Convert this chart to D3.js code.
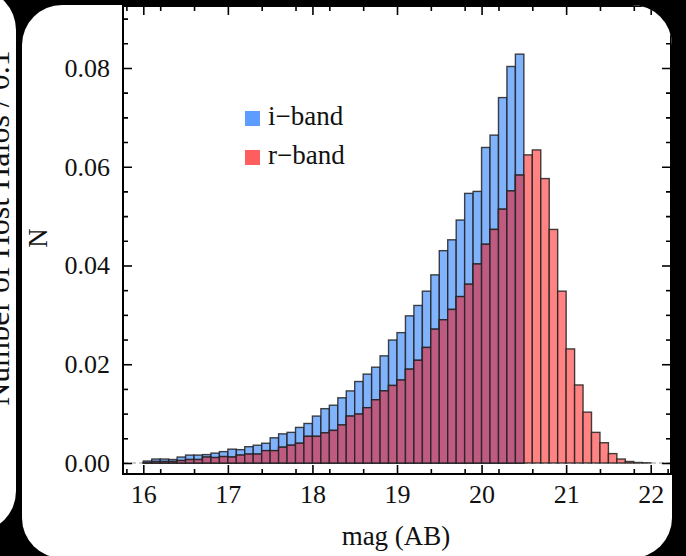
<!DOCTYPE html>
<html>
<head>
<meta charset="utf-8">
<script src="https://cdn.jsdelivr.net/npm/d3@7"></script>
<style>
  html, body { margin: 0; padding: 0; background: #000; }
  svg { display: block; }
  text { font-family: "Liberation Serif", "Times New Roman", serif; fill: #111; }
</style>
</head>
<body>
<div id="chart"></div>
<script>
var svgWidth = 686;
var svgHeight = 556;

// histogram bins, 0.1 mag wide, left edges
var binStarts = d3.range(60).map(function(k) { return +(16 + k * 0.1).toFixed(1); });
var binWidth = 0.1;

var iBand = [
  0.0004, 0.0008, 0.0008, 0.0007, 0.0012, 0.0016, 0.0016, 0.0017, 0.0020, 0.0023,
  0.0028, 0.0027, 0.0033, 0.0036, 0.0040, 0.0051, 0.0059, 0.0062, 0.0072, 0.0080,
  0.0095, 0.0110, 0.0117, 0.0132, 0.0146, 0.0165, 0.0180, 0.0194, 0.0217, 0.0249,
  0.0264, 0.0298, 0.0319, 0.0348, 0.0381, 0.0430, 0.0452, 0.0492, 0.0546, 0.0550,
  0.0639, 0.0664, 0.0740, 0.0803, 0.0828, 0, 0, 0, 0, 0,
  0, 0, 0, 0, 0, 0, 0, 0, 0, 0
];

var rBand = [
  0.0001, 0.0003, 0.0003, 0.0003, 0.0005, 0.0007, 0.0007, 0.0012, 0.0011, 0.0013,
  0.0012, 0.0016, 0.0018, 0.0018, 0.0025, 0.0025, 0.0032, 0.0036, 0.0040, 0.0054,
  0.0054, 0.0061, 0.0066, 0.0077, 0.0095, 0.0099, 0.0112, 0.0128, 0.0146, 0.0157,
  0.0168, 0.0190, 0.0208, 0.0234, 0.0271, 0.0290, 0.0311, 0.0337, 0.0362, 0.0403,
  0.0443, 0.0473, 0.0514, 0.0551, 0.0583, 0.0624, 0.0634, 0.0576, 0.0473, 0.0348,
  0.0231, 0.0158, 0.0103, 0.0062, 0.0041, 0.0019, 0.0008, 0.0003, 0.0001, 0.00004
];

var xTicks = [16, 17, 18, 19, 20, 21, 22];
var yTicks = [0, 0.02, 0.04, 0.06, 0.08];
var legendNames = ["i\u2212band", "r\u2212band"];
var legendColors = ["#5e9dff", "#ff5e5e"];

var blueFill = "#80b3fc";
var redFill = "#ff8383";
var bothFill = "#bf5b80";

var frame = { left: 123, right: 671, top: 6, bottom: 474 };

var svg = d3.select("#chart")
  .append("svg")
  .attr("width", svgWidth)
  .attr("height", svgHeight);

// white rounded panels on black (the left one is the neighbouring figure, cut off)
svg.append("rect")
  .attr("x", -60).attr("y", -10)
  .attr("width", 76).attr("height", 541)
  .attr("rx", 40)
  .attr("fill", "#fff");

svg.append("clipPath").attr("id", "leftClip")
  .append("rect")
  .attr("x", -60).attr("y", -10)
  .attr("width", 76).attr("height", 541)
  .attr("rx", 40);

svg.append("g")
  .attr("clip-path", "url(#leftClip)")
  .append("text")
  .attr("transform", "translate(9, 228) rotate(-90)")
  .attr("text-anchor", "middle")
  .style("font-size", "32px")
  .text("Number of Host Halos / 0.1");

svg.append("rect")
  .attr("x", 22).attr("y", 5)
  .attr("width", 650).attr("height", 553)
  .attr("rx", 40)
  .attr("fill", "#fff");

svg.append("clipPath").attr("id", "panelClip")
  .append("rect")
  .attr("x", 22).attr("y", 5)
  .attr("width", 650).attr("height", 553)
  .attr("rx", 40);

var chartGroup = svg.append("g").attr("clip-path", "url(#panelClip)");

var xScale = d3.scaleLinear()
  .domain([15.76, 22.24])
  .range([frame.left, frame.right]);

var yScale = d3.scaleLinear()
  .domain([-0.00223, 0.09255])
  .range([frame.bottom, frame.top]);

// zero line
chartGroup.append("line")
  .attr("x1", frame.left).attr("x2", frame.right)
  .attr("y1", yScale(0)).attr("y2", yScale(0))
  .attr("stroke", "#9a9a9a")
  .attr("stroke-width", 1.2)
  .attr("stroke-dasharray", "5,3");

var bins = binStarts.map(function(b, k) {
  return { x0: b, x1: b + binWidth, i: iBand[k], r: rBand[k] };
});

function barAttrs(sel, key) {
  sel.attr("x", d => xScale(d.x0))
    .attr("width", d => xScale(d.x1) - xScale(d.x0))
    .attr("y", d => yScale(key(d)))
    .attr("height", d => yScale(0) - yScale(key(d)))
    .attr("stroke", "#222")
    .attr("stroke-opacity", 0.85)
    .attr("stroke-width", 1.4);
}

chartGroup.selectAll(".ibar")
  .data(bins.filter(d => d.i > 0))
  .enter()
  .append("rect")
  .attr("class", "ibar")
  .attr("fill", blueFill)
  .call(barAttrs, d => d.i);

chartGroup.selectAll(".rbar")
  .data(bins.filter(d => d.r > 0))
  .enter()
  .append("rect")
  .attr("class", "rbar")
  .attr("fill", redFill)
  .call(barAttrs, d => d.r);

// where the two overlap
chartGroup.selectAll(".obar")
  .data(bins.filter(d => d.r > 0 && d.i > 0))
  .enter()
  .append("rect")
  .attr("class", "obar")
  .attr("fill", bothFill)
  .call(barAttrs, d => Math.min(d.i, d.r));

// frame ticks
var xMinor = d3.range(79, 113, 2).map(v => v / 5).filter(v => xTicks.indexOf(v) < 0);
var yMinor = d3.range(0, 19).map(v => v * 0.005).filter(v => v % 0.02 > 1e-6 && 0.02 - (v % 0.02) > 1e-6);

function styleAxis(g) {
  g.select(".domain").remove();
  g.selectAll("line").attr("stroke", "#000").attr("stroke-width", 1.6);
  g.selectAll("text").style("font-size", "26px").attr("fill", "#111");
}

chartGroup.append("g")
  .attr("transform", `translate(0, ${frame.bottom})`)
  .call(d3.axisBottom(xScale).tickValues(xTicks).tickSize(-9).tickPadding(11).tickFormat(d3.format("d")))
  .call(styleAxis);

chartGroup.append("g")
  .attr("transform", `translate(0, ${frame.bottom})`)
  .call(d3.axisBottom(xScale).tickValues(xMinor).tickSize(-5).tickFormat(""))
  .call(styleAxis);

chartGroup.append("g")
  .attr("transform", `translate(0, ${frame.top})`)
  .call(d3.axisTop(xScale).tickValues(xTicks).tickSize(-9).tickFormat(""))
  .call(styleAxis);

chartGroup.append("g")
  .attr("transform", `translate(0, ${frame.top})`)
  .call(d3.axisTop(xScale).tickValues(xMinor).tickSize(-5).tickFormat(""))
  .call(styleAxis);

chartGroup.append("g")
  .attr("transform", `translate(${frame.left}, 0)`)
  .call(d3.axisLeft(yScale).tickValues(yTicks).tickSize(-9).tickPadding(13).tickFormat(d3.format(".2f")))
  .call(styleAxis);

chartGroup.append("g")
  .attr("transform", `translate(${frame.left}, 0)`)
  .call(d3.axisLeft(yScale).tickValues(yMinor).tickSize(-5).tickFormat(""))
  .call(styleAxis);

chartGroup.append("g")
  .attr("transform", `translate(${frame.right}, 0)`)
  .call(d3.axisRight(yScale).tickValues(yTicks).tickSize(-9).tickFormat(""))
  .call(styleAxis);

chartGroup.append("g")
  .attr("transform", `translate(${frame.right}, 0)`)
  .call(d3.axisRight(yScale).tickValues(yMinor).tickSize(-5).tickFormat(""))
  .call(styleAxis);

chartGroup.append("rect")
  .attr("x", frame.left).attr("y", frame.top)
  .attr("width", frame.right - frame.left)
  .attr("height", frame.bottom - frame.top)
  .attr("fill", "none")
  .attr("stroke", "#000")
  .attr("stroke-width", 2);

// axis labels
svg.append("text")
  .attr("transform", "translate(47, 238) rotate(-90)")
  .attr("text-anchor", "middle")
  .style("font-size", "27px")
  .text("N");

svg.append("text")
  .attr("x", 396).attr("y", 545)
  .attr("text-anchor", "middle")
  .style("font-size", "27px")
  .text("mag (AB)");

// legend
var legend = svg.selectAll(".legend")
  .data(legendNames)
  .enter()
  .append("g")
  .attr("class", "legend")
  .attr("transform", (d, k) => `translate(245, ${111 + k * 39})`);

legend.append("rect")
  .attr("width", 15).attr("height", 15)
  .attr("fill", (d, k) => legendColors[k]);

legend.append("text")
  .attr("x", 23).attr("y", 14)
  .style("font-size", "27px")
  .text(d => d);
</script>
</body>
</html>
